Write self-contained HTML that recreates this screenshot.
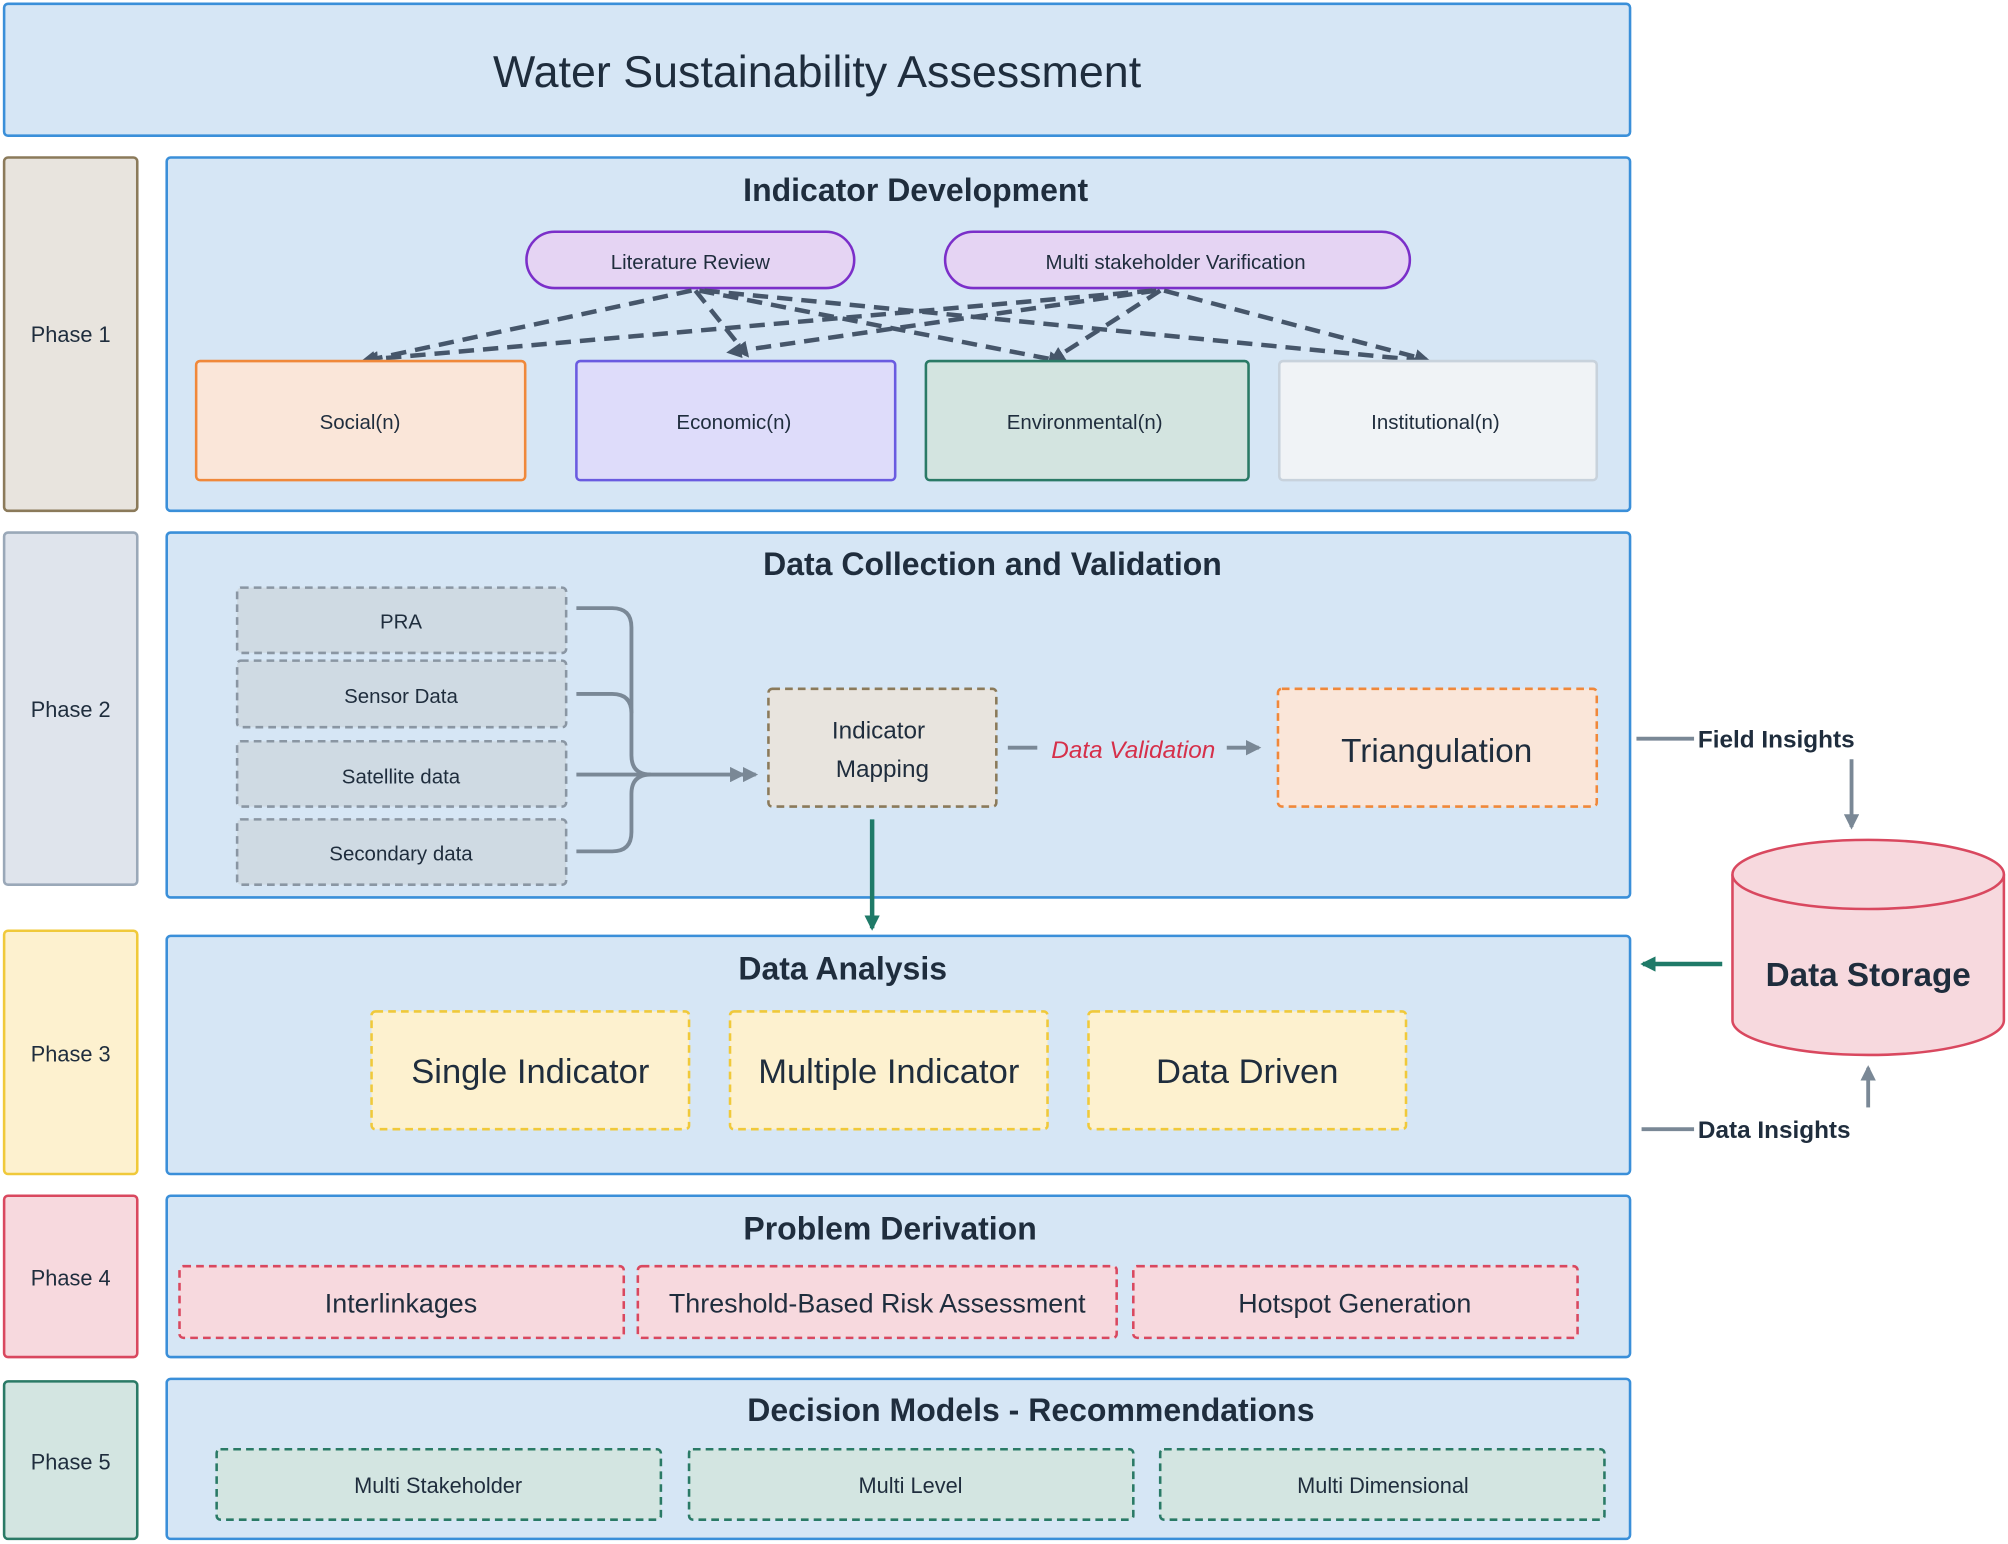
<!DOCTYPE html>
<html><head><meta charset="utf-8"><style>
html,body{margin:0;padding:0;background:#fff;}
svg{display:block;}
text{font-family:"Liberation Sans",sans-serif;fill:#1f2d3d;}
</style></head><body>
<svg width="2008" height="1544" viewBox="0 0 1568 1206" xmlns="http://www.w3.org/2000/svg">
<defs>
<marker id="ad" markerWidth="12" markerHeight="12" refX="9" refY="6" orient="auto" markerUnits="userSpaceOnUse"><path d="M0,0 L12,6 L0,12 z" fill="#46566a"/></marker>
<marker id="ag" markerWidth="12" markerHeight="12" refX="10" refY="6" orient="auto" markerUnits="userSpaceOnUse"><path d="M0,0 L12,6 L0,12 z" fill="#7a8896"/></marker>
<marker id="agr" markerWidth="12" markerHeight="12" refX="10" refY="6" orient="auto" markerUnits="userSpaceOnUse"><path d="M0,0 L12,6 L0,12 z" fill="#1f7a68"/></marker>
</defs>
<rect x="3" y="3" width="1270" height="103" rx="3" fill="#d6e6f5" stroke="#3a8fd9" stroke-width="2"/>
<text x="638" y="68" font-size="35" text-anchor="middle">Water Sustainability Assessment</text>

<g font-size="17" text-anchor="middle">
<rect x="3" y="123" width="104" height="276" rx="3" fill="#e8e4de" stroke="#8b7a5a" stroke-width="2"/><text x="55" y="267">Phase 1</text>
<rect x="3" y="416" width="104" height="275" rx="3" fill="#dfe4ec" stroke="#9aa8b8" stroke-width="2"/><text x="55" y="560">Phase 2</text>
<rect x="3" y="727" width="104" height="190" rx="3" fill="#fdf1cf" stroke="#f0c93a" stroke-width="2"/><text x="55" y="829">Phase 3</text>
<rect x="3" y="934" width="104" height="126" rx="3" fill="#f7d9de" stroke="#d9485f" stroke-width="2"/><text x="55" y="1004">Phase 4</text>
<rect x="3" y="1079" width="104" height="123" rx="3" fill="#d3e5e1" stroke="#2a7a66" stroke-width="2"/><text x="55" y="1148">Phase 5</text>
</g>

<rect x="130" y="123" width="1143" height="276" rx="3" fill="#d6e6f5" stroke="#3a8fd9" stroke-width="2"/>
<text x="715" y="157" font-size="25" font-weight="bold" text-anchor="middle">Indicator Development</text>
<rect x="411" y="181" width="256" height="44" rx="22" fill="#e5d4f3" stroke="#7b2fc9" stroke-width="2"/>
<text x="539" y="210" font-size="16" text-anchor="middle">Literature Review</text>
<rect x="738" y="181" width="363" height="44" rx="22" fill="#e5d4f3" stroke="#7b2fc9" stroke-width="2"/>
<text x="918" y="210" font-size="16" text-anchor="middle">Multi stakeholder Varification</text>
<g stroke="#46566a" stroke-width="3.5" stroke-dasharray="12,7" fill="none" marker-end="url(#ad)">
<line x1="540" y1="227" x2="284" y2="282"/><line x1="543" y1="227" x2="583" y2="277"/><line x1="546" y1="227" x2="828" y2="282"/><line x1="550" y1="227" x2="1115" y2="282"/>
<line x1="900" y1="227" x2="286" y2="281"/><line x1="903" y1="227" x2="570" y2="275"/><line x1="906" y1="227" x2="822" y2="281"/><line x1="909" y1="227" x2="1114" y2="281"/>
</g>
<g font-size="16" text-anchor="middle">
<rect x="153" y="282" width="257" height="93" rx="3" fill="#fae6d9" stroke="#f0883a" stroke-width="2"/><text x="281" y="335">Social(n)</text>
<rect x="450" y="282" width="249" height="93" rx="3" fill="#dedcfa" stroke="#6a5be0" stroke-width="2"/><text x="573" y="335">Economic(n)</text>
<rect x="723" y="282" width="252" height="93" rx="3" fill="#d3e4e0" stroke="#2a7a66" stroke-width="2"/><text x="847" y="335">Environmental(n)</text>
<rect x="999" y="282" width="248" height="93" rx="3" fill="#f0f3f6" stroke="#c8d2dc" stroke-width="2"/><text x="1121" y="335">Institutional(n)</text>
</g>

<rect x="130" y="416" width="1143" height="285" rx="3" fill="#d6e6f5" stroke="#3a8fd9" stroke-width="2"/>
<text x="775" y="449" font-size="25" font-weight="bold" text-anchor="middle">Data Collection and Validation</text>
<g font-size="16" text-anchor="middle">
<rect x="185" y="459" width="257" height="51" rx="3" fill="#cfdae3" stroke="#8a96a3" stroke-width="2" stroke-dasharray="6,4"/><text x="313" y="491">PRA</text>
<rect x="185" y="516" width="257" height="52" rx="3" fill="#cfdae3" stroke="#8a96a3" stroke-width="2" stroke-dasharray="6,4"/><text x="313" y="549">Sensor Data</text>
<rect x="185" y="579" width="257" height="51" rx="3" fill="#cfdae3" stroke="#8a96a3" stroke-width="2" stroke-dasharray="6,4"/><text x="313" y="612">Satellite data</text>
<rect x="185" y="640" width="257" height="51" rx="3" fill="#cfdae3" stroke="#8a96a3" stroke-width="2" stroke-dasharray="6,4"/><text x="313" y="672">Secondary data</text>
</g>
<g stroke="#7a8896" stroke-width="3" fill="none">
<path d="M450,475 H478 Q493,475 493,490 V590 Q493,605 508,605"/>
<path d="M450,542 H478 Q493,542 493,557"/>
<path d="M450,665 H478 Q493,665 493,650 V620 Q493,605 508,605"/>
<path d="M450,605 H590" marker-end="url(#ag)"/>
<path d="M570,605 H580" marker-end="url(#ag)"/>
</g>
<rect x="600" y="538" width="178" height="92" rx="3" fill="#e8e4de" stroke="#8b7a5a" stroke-width="2" stroke-dasharray="6,4"/>
<text x="686" y="577" font-size="19" text-anchor="middle">Indicator</text>
<text x="689" y="607" font-size="19" text-anchor="middle">Mapping</text>
<line x1="787" y1="584" x2="810" y2="584" stroke="#7a8896" stroke-width="3"/>
<text x="885" y="592" font-size="19" font-style="italic" text-anchor="middle" style="fill:#d6304a">Data Validation</text>
<line x1="958" y1="584" x2="983" y2="584" stroke="#7a8896" stroke-width="3" marker-end="url(#ag)"/>
<rect x="998" y="538" width="249" height="92" rx="3" fill="#fae6d9" stroke="#f0883a" stroke-width="2" stroke-dasharray="6,4"/>
<text x="1122" y="595" font-size="26" text-anchor="middle">Triangulation</text>
<line x1="681" y1="640" x2="681" y2="725" stroke="#1f7a68" stroke-width="3.5" marker-end="url(#agr)"/>

<rect x="130" y="731" width="1143" height="186" rx="3" fill="#d6e6f5" stroke="#3a8fd9" stroke-width="2"/>
<text x="658" y="765" font-size="25" font-weight="bold" text-anchor="middle">Data Analysis</text>
<g font-size="27" text-anchor="middle">
<rect x="290" y="790" width="248" height="92" rx="3" fill="#fdf1cf" stroke="#f0c93a" stroke-width="2" stroke-dasharray="6,4"/><text x="414" y="846">Single Indicator</text>
<rect x="570" y="790" width="248" height="92" rx="3" fill="#fdf1cf" stroke="#f0c93a" stroke-width="2" stroke-dasharray="6,4"/><text x="694" y="846">Multiple Indicator</text>
<rect x="850" y="790" width="248" height="92" rx="3" fill="#fdf1cf" stroke="#f0c93a" stroke-width="2" stroke-dasharray="6,4"/><text x="974" y="846">Data Driven</text>
</g>

<path d="M1353,683 V797 A106,27 0 0 0 1565,797 V683" fill="#f7d9de" stroke="#d9485f" stroke-width="2"/>
<ellipse cx="1459" cy="683" rx="106" ry="27" fill="#f7d9de" stroke="#d9485f" stroke-width="2"/>
<text x="1459" y="770" font-size="26" font-weight="bold" text-anchor="middle">Data Storage</text>
<line x1="1278" y1="577" x2="1323" y2="577" stroke="#7a8896" stroke-width="3"/>
<text x="1326" y="584" font-size="19" font-weight="bold">Field Insights</text>
<line x1="1446" y1="593" x2="1446" y2="646" stroke="#7a8896" stroke-width="3" marker-end="url(#ag)"/>
<line x1="1345" y1="753" x2="1283" y2="753" stroke="#1f7a68" stroke-width="3.5" marker-end="url(#agr)"/>
<line x1="1282" y1="882" x2="1323" y2="882" stroke="#7a8896" stroke-width="3"/>
<text x="1326" y="889" font-size="19" font-weight="bold">Data Insights</text>
<line x1="1459" y1="865" x2="1459" y2="834" stroke="#7a8896" stroke-width="3" marker-end="url(#ag)"/>

<rect x="130" y="934" width="1143" height="126" rx="3" fill="#d6e6f5" stroke="#3a8fd9" stroke-width="2"/>
<text x="695" y="968" font-size="25" font-weight="bold" text-anchor="middle">Problem Derivation</text>
<g font-size="21" text-anchor="middle">
<rect x="140" y="989" width="347" height="56" rx="3" fill="#f7d9de" stroke="#d9485f" stroke-width="2" stroke-dasharray="6,4"/><text x="313" y="1025">Interlinkages</text>
<rect x="498" y="989" width="374" height="56" rx="3" fill="#f7d9de" stroke="#d9485f" stroke-width="2" stroke-dasharray="6,4"/><text x="685" y="1025">Threshold-Based Risk Assessment</text>
<rect x="885" y="989" width="347" height="56" rx="3" fill="#f7d9de" stroke="#d9485f" stroke-width="2" stroke-dasharray="6,4"/><text x="1058" y="1025">Hotspot Generation</text>
</g>

<rect x="130" y="1077" width="1143" height="125" rx="3" fill="#d6e6f5" stroke="#3a8fd9" stroke-width="2"/>
<text x="805" y="1110" font-size="25" font-weight="bold" text-anchor="middle">Decision Models - Recommendations</text>
<g font-size="17" text-anchor="middle">
<rect x="169" y="1132" width="347" height="55" rx="3" fill="#d3e5e1" stroke="#2a7a66" stroke-width="2" stroke-dasharray="6,4"/><text x="342" y="1166">Multi Stakeholder</text>
<rect x="538" y="1132" width="347" height="55" rx="3" fill="#d3e5e1" stroke="#2a7a66" stroke-width="2" stroke-dasharray="6,4"/><text x="711" y="1166">Multi Level</text>
<rect x="906" y="1132" width="347" height="55" rx="3" fill="#d3e5e1" stroke="#2a7a66" stroke-width="2" stroke-dasharray="6,4"/><text x="1080" y="1166">Multi Dimensional</text>
</g>
</svg>
</body></html>
